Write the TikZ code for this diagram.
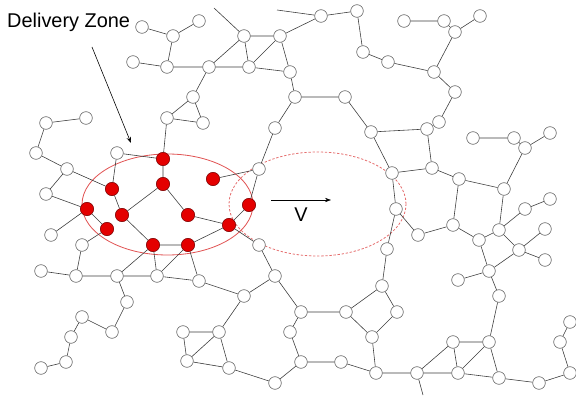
\documentclass[tikz,border=0pt]{standalone}
\usepackage{fontspec}
\setmainfont{Liberation Sans}
\usetikzlibrary{arrows.meta}
\definecolor{linegray}{RGB}{60,60,60}
\definecolor{sitegray}{RGB}{95,95,95}
\definecolor{hitred}{RGB}{228,0,0}
\definecolor{zonered}{RGB}{225,85,85}
\tikzset{
    site/.style={circle, draw=sitegray, fill=white, line width=0.5pt, inner sep=0pt, minimum size=3.8mm},
    hit/.style={circle, draw=hitred!55!black, fill=hitred, line width=0.5pt, inner sep=0pt, minimum size=4mm},
    link/.style={linegray, line width=0.5pt},
    zone/.style={zonered, line width=0.7pt},
    nextzone/.style={zonered!85, dash pattern=on 2pt off 1.5pt, line width=0.7pt},
    pointer/.style={-{Stealth[length=1.8mm, width=1.3mm]}, black, line width=0.5pt},
    caption/.style={font=\fontsize{17}{20}\selectfont, inner sep=0pt}
}

\begin{document}
\begin{tikzpicture}[x=0.03cm, y=-0.03cm]
    \useasboundingbox (0,0) rectangle (576,396);

    % zones
    \draw [zone] (167.5,204.5) ellipse [x radius=2.565cm, y radius=1.515cm];
    \draw [nextzone] (317.5,204) ellipse [x radius=2.655cm, y radius=1.56cm];

    % labels
    \node (dz) [caption, anchor=west] at (7,22) {Delivery Zone};
    \node (vel) [caption] at (301,215) {V};
    \coordinate (dzfrom) at (92,47);
    \coordinate (dzto) at (131,143);
    \coordinate (vfrom) at (271,200);
    \coordinate (vto) at (331,200);
    \coordinate (loose1) at (214,8);
    \coordinate (loose2) at (277,10);
    \coordinate (loose3) at (423,395);

    % sites
    \node (a1) [site] at (142,27) {};
    \node (a2) [site] at (173,36) {};
    \node (a3) [site] at (199,21) {};
    \node (a4) [site] at (133,62) {};
    \node (a5) [site] at (167,67) {};
    \node (a6) [site] at (209,67) {};
    \node (a7) [site] at (244,36) {};
    \node (a8) [site] at (280,36) {};
    \node (a9) [site] at (249,67) {};
    \node (a10) [site] at (290,72) {};
    \node (a11) [site] at (193,97) {};
    \node (a12) [site] at (167,118) {};
    \node (a13) [site] at (203,123) {};
    \node (a14) [site] at (321,16) {};
    \node (a15) [site] at (357,11) {};
    \node (a16) [site] at (363,52) {};
    \node (a17) [site] at (388,62) {};
    \node (a18) [site] at (434,72) {};
    \node (a19) [site] at (404,21) {};
    \node (a20) [site] at (444,21) {};
    \node (a21) [site] at (455,32) {};
    \node (a22) [site] at (480,16) {};
    \node (a23) [site] at (455,92) {};
    \node (a24) [site] at (439,122) {};
    \node (a25) [site] at (295,97) {};
    \node (a26) [site] at (345,97) {};
    \node (a27) [site] at (275,128) {};
    \node (a28) [site] at (371,132) {};
    \node (a29) [site] at (427,129) {};
    \node (a30) [site] at (432,168) {};
    \node (a31) [site] at (392,173) {};
    \node (a32) [site] at (396,209) {};
    \node (a33) [site] at (418,235) {};
    \node (a34) [site] at (387,249) {};
    \node (a35) [site] at (473,138) {};
    \node (a36) [site] at (514,138) {};
    \node (a37) [site] at (550,133) {};
    \node (a38) [site] at (525,148) {};
    \node (a39) [site] at (459,179) {};
    \node (a40) [site] at (504,189) {};
    \node (a41) [site] at (453,225) {};
    \node (a42) [site] at (479,240) {};
    \node (a43) [site] at (499,230) {};
    \node (a44) [site] at (525,209) {};
    \node (a45) [site] at (550,199) {};
    \node (a46) [site] at (545,229) {};
    \node (a47) [site] at (519,250) {};
    \node (a48) [site] at (545,260) {};
    \node (a49) [site] at (489,271) {};
    \node (a50) [site] at (458,280) {};
    \node (a51) [site] at (499,296) {};
    \node (a52) [site] at (489,342) {};
    \node (a53) [site] at (453,342) {};
    \node (a54) [site] at (458,373) {};
    \node (a55) [site] at (499,378) {};
    \node (a56) [site] at (539,383) {};
    \node (a57) [site] at (570,373) {};
    \node (a58) [site] at (560,342) {};
    \node (a59) [site] at (570,322) {};
    \node (a60) [site] at (417,373) {};
    \node (a61) [site] at (376,373) {};
    \node (a62) [site] at (341,362) {};
    \node (a63) [site] at (301,362) {};
    \node (a64) [site] at (290,332) {};
    \node (a65) [site] at (301,312) {};
    \node (a66) [site] at (346,312) {};
    \node (a67) [site] at (382,286) {};
    \node (a68) [site] at (397,312) {};
    \node (a69) [site] at (372,337) {};
    \node (a70) [site] at (275,383) {};
    \node (a71) [site] at (229,368) {};
    \node (a72) [site] at (187,361) {};
    \node (a73) [site] at (183,332) {};
    \node (a74) [site] at (219,332) {};
    \node (a75) [site] at (244,296) {};
    \node (a76) [site] at (275,276) {};
    \node (a77) [site] at (199,281) {};
    \node (a78) [site] at (157,276) {};
    \node (a79) [site] at (117,276) {};
    \node (a80) [site] at (76,276) {};
    \node (a81) [site] at (41,271) {};
    \node (a82) [site] at (127,302) {};
    \node (a83) [site] at (112,332) {};
    \node (a84) [site] at (82,317) {};
    \node (a85) [site] at (71,337) {};
    \node (a86) [site] at (66,362) {};
    \node (a87) [site] at (41,368) {};
    \node (a88) [site] at (82,245) {};
    \node (a89) [site] at (51,235) {};
    \node (a90) [site] at (46,194) {};
    \node (a91) [site] at (67,169) {};
    \node (a92) [site] at (36,153) {};
    \node (a93) [site] at (46,123) {};
    \node (a94) [site] at (86,118) {};
    \node (a95) [site] at (117,153) {};
    \node (a96) [site] at (259,169) {};
    \node (a97) [site] at (259,245) {};

    % sites inside the delivery zone
    \node (r1) [hit] at (163,159) {};
    \node (r2) [hit] at (112,189) {};
    \node (r3) [hit] at (163,184) {};
    \node (r4) [hit] at (213,179) {};
    \node (r5) [hit] at (87,209) {};
    \node (r6) [hit] at (122,215) {};
    \node (r7) [hit] at (188,215) {};
    \node (r8) [hit] at (249,205) {};
    \node (r9) [hit] at (107,229) {};
    \node (r10) [hit] at (229,225) {};
    \node (r11) [hit] at (153,245) {};
    \node (r12) [hit] at (188,245) {};

    % links
    \draw [link] (a1) -- (a2) -- (a3);
    \draw [link] (a2) -- (a5);
    \draw [link] (a4) -- (a5) -- (a6) -- (a7) -- (a8) -- (a10) -- (a25) -- (a26) -- (a28) -- (a29) -- (a30);
    \draw [link] (a6) -- (a9) -- (a10);
    \draw [link] (a7) -- (a9) -- (a8) -- (a14) -- (a15) -- (a16) -- (a17) -- (a18) -- (a23) -- (a24) -- (a29);
    \draw [link] (a6) -- (a11) -- (a12) -- (a13) -- (a11);
    \draw [link] (a12) -- (r1);
    \draw [link] (loose1) -- (a7);
    \draw [link] (loose2) -- (a14);
    \draw [link] (a19) -- (a20) -- (a21) -- (a22);
    \draw [link] (a21) -- (a18);
    \draw [link] (a25) -- (a27) -- (a96);
    \draw [link] (a28) -- (a31) -- (a30) -- (a39);
    \draw [link] (a31) -- (a32) -- (a33) -- (a41);
    \draw [link] (a32) -- (a34) -- (a67);
    \draw [link] (a35) -- (a36) -- (a38) -- (a37);
    \draw [link] (a38) -- (a40) -- (a39) -- (a41) -- (a42) -- (a43) -- (a40);
    \draw [link] (a43) -- (a44) -- (a45);
    \draw [link] (a43) -- (a47) -- (a46);
    \draw [link] (a47) -- (a48);
    \draw [link] (a47) -- (a49) -- (a42);
    \draw [link] (a50) -- (a49) -- (a51) -- (a52) -- (a53) -- (a54) -- (a52) -- (a55) -- (a54);
    \draw [link] (a55) -- (a56) -- (a57) -- (a58) -- (a59);
    \draw [link] (a53) -- (a60) -- (a54);
    \draw [link] (a60) -- (loose3);
    \draw [link] (a60) -- (a61) -- (a62) -- (a63) -- (a64) -- (a65) -- (a66) -- (a67) -- (a68) -- (a69) -- (a66);
    \draw [link] (a69) -- (a61);
    \draw [link] (a63) -- (a70) -- (a71) -- (a72) -- (a73) -- (a74) -- (a72);
    \draw [link] (a71) -- (a74) -- (a75) -- (a76) -- (a65);
    \draw [link] (a76) -- (a97);
    \draw [link] (a75) -- (a77) -- (a78) -- (a79) -- (a80) -- (a81);
    \draw [link] (a77) -- (r12) -- (a78) -- (r11) -- (a79);
    \draw [link] (a79) -- (a82) -- (a83) -- (a84) -- (a85) -- (a86) -- (a87);
    \draw [link] (a80) -- (a88) -- (r9) -- (r5) -- (a89);
    \draw [link] (r5) -- (a90) -- (a91) -- (a92) -- (a93) -- (a94);
    \draw [link] (a91) -- (r2) -- (a95) -- (r1) -- (r3) -- (r6) -- (r2);
    \draw [link] (r6) -- (r11) -- (r12) -- (r10) -- (r7) -- (r3);
    \draw [link] (r10) -- (r8) -- (a96) -- (r4);
    \draw [link] (r10) -- (a97);

    % arrows
    \draw [pointer] (dzfrom) -- (dzto);
    \draw [pointer] (vfrom) -- (vto);
\end{tikzpicture}
\end{document}
